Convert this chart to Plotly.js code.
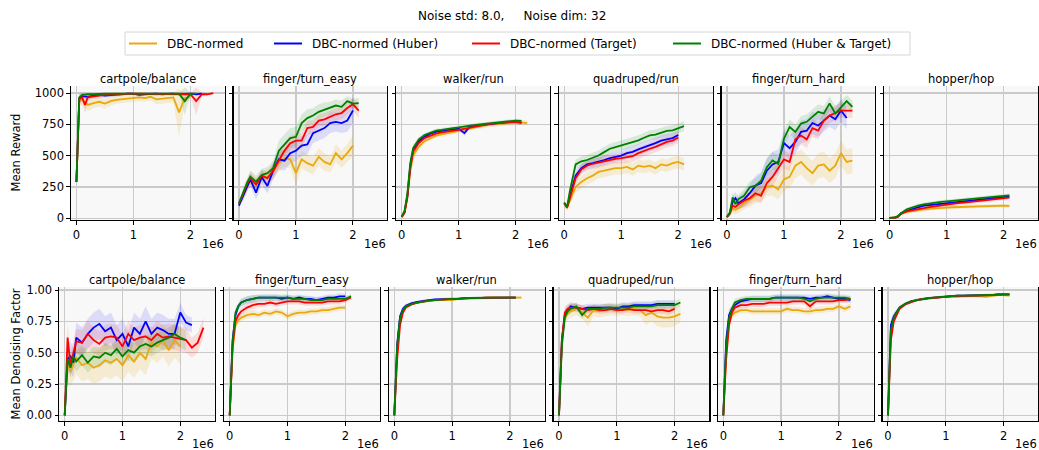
<!DOCTYPE html>
<html><head><meta charset="utf-8">
<script src="https://cdn.plot.ly/plotly-3.0.1.min.js"></script>
<style>html,body{margin:0;padding:0;background:#fff;}#chart{width:1039px;height:450px;}</style>
</head><body><div id="chart"></div>
<script>
// ---------- data (x in units of 1e6 env steps) ----------
const STEPS = [0,0.05,0.1,0.15,0.2,0.3,0.4,0.5,0.6,0.7,0.8,0.9,1.0,1.1,1.2,1.3,1.4,1.5,1.6,1.7,1.8,1.9,2.0,2.1,2.2,2.3,2.4];
const X_TICKS = [0,1,2];
const X_TICK_TEXT = ['0','1','2'];
const REWARD_TICKS = [0,250,500,750,1000];
const REWARD_TICK_TEXT = ['0','250','500','750','1000'];
const DENOISE_TICKS = [0,0.25,0.5,0.75,1.0];
const DENOISE_TICK_TEXT = ['0.00','0.25','0.50','0.75','1.00'];
const TASKS = ['cartpole/balance','finger/turn_easy','walker/run','quadruped/run','finger/turn_hard','hopper/hop'];
const SERIES_NAMES = ['DBC-normed','DBC-normed (Huber)','DBC-normed (Target)','DBC-normed (Huber & Target)'];
const SERIES_COLORS = ['#e8a90e','#0000ff','#ff0000','#008000'];
const BAND_COLORS = ['rgba(232,169,14,0.16)','rgba(0,0,255,0.11)','rgba(255,0,0,0.11)','rgba(0,128,0,0.12)'];
const ROW_LABELS = ['Mean Reward','Mean Denoising Factor'];
const TITLE_TEXT = 'Noise std: 8.0,\u00a0\u00a0\u00a0\u00a0\u00a0Noise dim: 32';
const SCALE_LABEL = '1e6';

// Mean reward
const cp_r_Y = [290,935,945,925,905,920,930,915,935,945,950,955,960,965,960,970,950,955,960,965,845,960,970];
const cp_r_Y_sd = [20,40,40,50,50,40,40,40,35,30,30,30,30,30,30,30,40,40,40,40,190,40,30];
const cp_r_B = [290,960,975,975,970,980,985,980,985,990,990,995,995,985,990,995,995,990,995,995,990,995,995,990,995];
const cp_r_B_sd = [20,30,20,20,20,15,15,15,15,10,10,10,10,15,10,10,10,10,10,10,10,10,10,10,10];
const cp_r_R = [290,950,965,905,965,975,980,985,985,990,990,995,995,990,995,995,990,995,995,990,995,990,990,935,990,990,1000];
const cp_r_R_sd = [20,40,40,70,30,20,20,15,15,15,15,10,10,15,10,10,15,10,10,15,10,15,15,110,15,10,10];
const cp_r_G = [290,965,985,990,990,990,995,995,995,995,995,995,995,995,995,995,995,995,995,995,995,935,995,995];
const cp_r_G_sd = [20,30,15,10,10,10,8,8,8,8,8,8,8,8,8,8,8,8,8,8,8,110,10,10];

const fe_r_Y = [110,160,220,260,300,270,320,330,370,440,480,470,360,470,440,420,490,450,430,520,470,520,580];
const fe_r_Y_sd = [20,30,40,40,50,50,50,60,60,60,70,70,90,70,70,70,70,70,60,70,70,70,80];
const fe_r_B = [100,150,200,260,310,205,330,258,380,470,460,520,540,580,590,680,700,720,760,770,760,780,860];
const fe_r_B_sd = [20,30,40,40,50,60,60,60,70,80,80,80,80,80,80,80,80,80,80,80,80,90,100];
const fe_r_R = [115,170,230,280,320,270,340,320,380,460,540,600,620,620,720,730,780,790,810,830,840,880,910,860];
const fe_r_R_sd = [20,30,40,40,50,50,50,50,60,60,60,60,60,60,60,50,50,50,50,50,50,50,50,60];
const fe_r_G = [120,180,240,290,332,292,345,360,400,540,590,640,650,760,800,820,850,865,880,900,890,935,915,920];
const fe_r_G_sd = [20,30,40,40,50,50,50,50,60,80,80,80,80,70,70,60,60,60,50,50,50,40,40,40];

const wk_r_Y = [10,40,160,370,500,570,615,640,660,670,680,690,700,710,720,730,740,745,750,755,760,760,762,765,760];
const wk_r_Y_sd = [5,10,30,40,35,25,20,20,20,20,20,20,20,20,20,20,20,20,20,20,20,20,20,20,20];
const wk_r_B = [10,50,180,420,545,615,650,675,690,700,705,710,715,680,735,740,745,752,758,760,765,770,770,762];
const wk_r_B_sd = [5,10,30,40,30,20,15,15,15,15,15,15,15,25,15,15,15,15,15,15,15,15,20,20];
const wk_r_R = [10,45,170,400,530,600,640,660,675,685,695,700,705,715,725,735,742,750,755,760,765,768,770,765];
const wk_r_R_sd = [5,10,30,40,30,20,15,15,15,15,15,15,15,15,15,15,15,15,15,15,15,15,15,15];
const wk_r_G = [15,60,200,440,560,630,665,685,700,705,715,720,725,735,740,745,750,755,760,765,770,775,780,778];
const wk_r_G_sd = [5,10,30,40,30,20,15,15,15,15,15,15,15,15,15,15,15,15,15,15,15,15,15,15];

const qr_r_Y = [120,80,140,200,250,290,320,340,370,380,390,400,400,410,390,420,410,420,400,430,420,440,450,430];
const qr_r_Y_sd = [15,20,30,40,50,50,50,50,50,50,50,50,50,50,50,50,50,50,50,50,50,50,50,50];
const qr_r_B = [120,90,180,270,340,400,430,440,450,465,480,490,500,520,530,550,565,580,600,620,630,640,665];
const qr_r_B_sd = [15,20,40,40,40,40,40,40,40,40,40,40,40,45,45,45,45,45,45,45,45,45,45];
const qr_r_R = [120,85,160,250,320,390,420,435,445,455,470,475,480,490,495,520,540,555,570,590,610,620,645];
const qr_r_R_sd = [15,20,40,40,40,40,40,40,40,40,40,40,40,45,45,45,45,45,45,45,45,45,45];
const qr_r_G = [125,90,220,330,430,455,465,483,501,528,555,568,582,595,609,622,643,662,668,681,697,702,716,735];
const qr_r_G_sd = [15,20,40,40,40,40,40,40,40,40,40,40,40,40,40,40,40,40,40,40,40,40,40,40];

const fh_r_Y = [10,30,80,70,80,120,150,180,200,250,260,230,310,330,420,450,400,360,420,430,380,420,520,450,460];
const fh_r_Y_sd = [10,20,40,40,40,50,60,60,70,70,80,80,90,90,100,100,100,100,100,100,100,100,100,100,100];
const fh_r_B = [10,40,130,160,120,150,200,260,280,380,430,450,600,560,610,690,700,760,740,780,820,790,860,800];
const fh_r_B_sd = [10,20,50,50,50,60,70,80,90,100,100,100,100,100,100,90,90,90,90,90,90,90,90,90];
const fh_r_R = [10,40,100,90,110,140,160,200,180,280,330,400,470,450,630,660,630,720,700,780,820,840,860,860,860];
const fh_r_R_sd = [10,20,40,40,40,50,50,60,60,70,70,70,70,70,70,70,70,70,70,70,60,60,60,60,60];
const fh_r_G = [10,45,166,113,153,180,247,260,300,408,461,434,635,729,689,756,770,810,850,836,917,836,890,936,890];
const fh_r_G_sd = [10,20,40,40,40,50,50,60,60,70,70,70,70,60,60,60,60,60,60,60,60,60,50,50,50];

const hp_r_Y = [2,2,5,15,35,50,58,63,70,75,80,83,85,88,90,92,93,95,96,97,98,100,100,98];
const hp_r_B = [2,3,5,15,40,60,75,88,100,105,110,115,120,125,130,135,140,145,150,155,160,165,170,175];
const hp_r_R = [2,2,4,12,35,55,65,72,80,88,95,100,110,115,120,125,130,135,140,145,150,155,160,165];
const hp_r_G = [2,3,8,20,40,72,88,100,110,118,125,130,135,140,145,150,155,160,163,168,172,175,178,182];
const hp_r_sd = [2,3,5,8,10,12,14,15,15,15,15,15,15,15,15,15,15,15,15,15,15,15,15,15];

// Mean denoising factor
const cp_d_Y = [0,0.40,0.35,0.40,0.46,0.40,0.42,0.38,0.40,0.44,0.42,0.45,0.40,0.48,0.43,0.50,0.45,0.58,0.55,0.60,0.52,0.60,0.55];
const cp_d_Y_sd = [0.02,0.15,0.12,0.12,0.13,0.13,0.13,0.13,0.13,0.13,0.13,0.13,0.13,0.13,0.13,0.13,0.13,0.13,0.13,0.13,0.13,0.14,0.14];
const cp_d_B = [0,0.45,0.47,0.42,0.62,0.58,0.65,0.70,0.73,0.67,0.70,0.60,0.65,0.55,0.70,0.65,0.75,0.65,0.70,0.68,0.65,0.65,0.82,0.74,0.72];
const cp_d_B_sd = [0.02,0.12,0.12,0.12,0.12,0.12,0.12,0.12,0.12,0.12,0.12,0.12,0.12,0.12,0.12,0.12,0.12,0.12,0.12,0.12,0.12,0.12,0.08,0.06,0.06];
const cp_d_R = [0,0.62,0.40,0.50,0.59,0.58,0.65,0.60,0.57,0.62,0.63,0.62,0.55,0.65,0.60,0.62,0.63,0.60,0.65,0.62,0.63,0.62,0.61,0.60,0.54,0.58,0.70];
const cp_d_R_sd = [0.02,0.12,0.10,0.10,0.10,0.10,0.10,0.10,0.10,0.10,0.10,0.10,0.10,0.10,0.10,0.10,0.10,0.10,0.10,0.10,0.10,0.10,0.10,0.10,0.08,0.08,0.08];
const cp_d_G = [0,0.45,0.38,0.47,0.43,0.48,0.42,0.47,0.46,0.50,0.48,0.53,0.47,0.52,0.50,0.55,0.57,0.55,0.58,0.60,0.62,0.65,0.62,0.60];
const cp_d_G_sd = [0.02,0.08,0.08,0.08,0.08,0.08,0.08,0.08,0.08,0.08,0.08,0.08,0.08,0.08,0.08,0.08,0.08,0.08,0.08,0.08,0.08,0.08,0.08,0.08];

const fe_d_Y = [0,0.52,0.72,0.76,0.78,0.80,0.81,0.80,0.82,0.81,0.83,0.82,0.79,0.81,0.82,0.82,0.83,0.83,0.84,0.84,0.85,0.86,0.86];
const fe_d_B = [0,0.60,0.80,0.87,0.90,0.92,0.93,0.94,0.94,0.94,0.94,0.93,0.94,0.93,0.94,0.93,0.93,0.92,0.93,0.94,0.94,0.95,0.95];
const fe_d_R = [0,0.55,0.75,0.80,0.83,0.86,0.88,0.89,0.89,0.90,0.89,0.90,0.91,0.91,0.91,0.90,0.90,0.90,0.90,0.91,0.91,0.91,0.92,0.94];
const fe_d_G = [0,0.58,0.82,0.87,0.90,0.92,0.93,0.94,0.94,0.94,0.94,0.94,0.94,0.93,0.93,0.93,0.92,0.92,0.92,0.93,0.93,0.93,0.93,0.95];
const fe_d_sd = [0.01,0.05,0.04,0.03,0.03,0.03,0.03,0.025,0.025,0.025,0.025,0.025,0.025,0.025,0.025,0.025,0.025,0.025,0.025,0.025,0.025,0.025,0.02,0.02];

const wk_d_Y = [0,0.55,0.78,0.84,0.87,0.89,0.90,0.91,0.915,0.92,0.92,0.925,0.92,0.93,0.93,0.935,0.935,0.935,0.94,0.94,0.94,0.935,0.94,0.94,0.94];
const wk_d_B = [0,0.57,0.79,0.85,0.875,0.895,0.905,0.915,0.92,0.925,0.925,0.93,0.93,0.93,0.935,0.935,0.94,0.94,0.94,0.94,0.94,0.94,0.94,0.94];
const wk_d_R = [0,0.45,0.72,0.82,0.86,0.885,0.90,0.91,0.915,0.92,0.925,0.925,0.93,0.93,0.935,0.935,0.935,0.94,0.94,0.94,0.94,0.94,0.94,0.94];
const wk_d_G = [0,0.55,0.78,0.84,0.87,0.89,0.90,0.91,0.915,0.92,0.925,0.93,0.93,0.93,0.935,0.935,0.935,0.94,0.94,0.94,0.94,0.94,0.94,0.94];
const wk_d_sd = [0.01,0.04,0.03,0.02,0.015,0.01,0.01,0.01,0.01,0.01,0.01,0.01,0.01,0.01,0.01,0.01,0.01,0.01,0.01,0.01,0.01,0.01,0.01,0.01,0.01];

const qr_d_Y = [0,0.6,0.78,0.81,0.83,0.85,0.82,0.78,0.84,0.83,0.84,0.85,0.84,0.85,0.84,0.85,0.84,0.80,0.82,0.79,0.78,0.78,0.79,0.81];
const qr_d_Y_sd = [0.01,0.08,0.06,0.05,0.05,0.05,0.05,0.07,0.05,0.05,0.05,0.05,0.05,0.05,0.05,0.05,0.05,0.08,0.07,0.08,0.08,0.08,0.08,0.07];
const qr_d_B = [0,0.6,0.80,0.84,0.87,0.86,0.85,0.86,0.86,0.86,0.86,0.86,0.85,0.87,0.87,0.88,0.88,0.88,0.88,0.89,0.89,0.89,0.89];
const qr_d_R = [0,0.6,0.82,0.85,0.86,0.86,0.85,0.84,0.85,0.84,0.84,0.85,0.84,0.84,0.85,0.84,0.84,0.84,0.83,0.84,0.84,0.83,0.85];
const qr_d_G = [0,0.55,0.78,0.83,0.85,0.87,0.80,0.85,0.85,0.85,0.86,0.86,0.86,0.86,0.86,0.87,0.87,0.87,0.87,0.88,0.88,0.88,0.88,0.90];
const qr_d_sd = [0.01,0.06,0.05,0.04,0.035,0.03,0.03,0.03,0.03,0.03,0.03,0.03,0.03,0.03,0.03,0.03,0.03,0.03,0.03,0.03,0.03,0.03,0.03,0.03];

const fh_d_Y = [0,0.50,0.75,0.80,0.82,0.84,0.84,0.83,0.83,0.83,0.83,0.83,0.83,0.85,0.84,0.84,0.83,0.83,0.84,0.84,0.85,0.85,0.87,0.85,0.87];
const fh_d_B = [0,0.60,0.80,0.85,0.88,0.91,0.92,0.93,0.93,0.93,0.93,0.94,0.94,0.94,0.94,0.94,0.94,0.93,0.94,0.94,0.95,0.94,0.93,0.93,0.92];
const fh_d_R = [0,0.45,0.72,0.82,0.86,0.88,0.88,0.89,0.89,0.89,0.90,0.90,0.90,0.90,0.91,0.91,0.91,0.87,0.91,0.91,0.91,0.91,0.92,0.92,0.93];
const fh_d_G = [0,0.55,0.78,0.85,0.90,0.92,0.93,0.93,0.93,0.93,0.93,0.94,0.94,0.94,0.94,0.94,0.93,0.91,0.93,0.94,0.94,0.94,0.94,0.94,0.93];
const fh_d_sd = [0.01,0.06,0.05,0.035,0.03,0.025,0.025,0.025,0.025,0.025,0.025,0.025,0.025,0.025,0.025,0.025,0.025,0.03,0.025,0.025,0.025,0.025,0.025,0.025,0.025];

const hp_d_Y = [0,0.70,0.78,0.82,0.86,0.89,0.91,0.92,0.93,0.935,0.94,0.94,0.945,0.95,0.95,0.95,0.955,0.955,0.95,0.945,0.955,0.96,0.96,0.955];
const hp_d_B = [0,0.72,0.79,0.83,0.86,0.89,0.91,0.92,0.93,0.935,0.94,0.945,0.95,0.95,0.955,0.955,0.955,0.96,0.96,0.96,0.96,0.965,0.965,0.965];
const hp_d_R = [0,0.60,0.75,0.80,0.85,0.885,0.905,0.92,0.93,0.935,0.94,0.945,0.95,0.95,0.95,0.955,0.955,0.955,0.96,0.96,0.96,0.96,0.965,0.965];
const hp_d_G = [0,0.68,0.78,0.82,0.86,0.89,0.91,0.92,0.93,0.935,0.94,0.945,0.95,0.95,0.955,0.955,0.955,0.96,0.96,0.96,0.96,0.965,0.965,0.965];
const hp_d_sd = [0.01,0.05,0.03,0.02,0.015,0.01,0.01,0.01,0.01,0.01,0.01,0.01,0.01,0.01,0.01,0.01,0.01,0.01,0.01,0.01,0.01,0.01,0.01,0.01];

// ---------- assemble ----------
const panels = [
  {m:[cp_r_Y,cp_r_B,cp_r_R,cp_r_G], s:[cp_r_Y_sd,cp_r_B_sd,cp_r_R_sd,cp_r_G_sd]},
  {m:[fe_r_Y,fe_r_B,fe_r_R,fe_r_G], s:[fe_r_Y_sd,fe_r_B_sd,fe_r_R_sd,fe_r_G_sd]},
  {m:[wk_r_Y,wk_r_B,wk_r_R,wk_r_G], s:[wk_r_Y_sd,wk_r_B_sd,wk_r_R_sd,wk_r_G_sd]},
  {m:[qr_r_Y,qr_r_B,qr_r_R,qr_r_G], s:[qr_r_Y_sd,qr_r_B_sd,qr_r_R_sd,qr_r_G_sd]},
  {m:[fh_r_Y,fh_r_B,fh_r_R,fh_r_G], s:[fh_r_Y_sd,fh_r_B_sd,fh_r_R_sd,fh_r_G_sd]},
  {m:[hp_r_Y,hp_r_B,hp_r_R,hp_r_G], s:[hp_r_sd,hp_r_sd,hp_r_sd,hp_r_sd]},
  {m:[cp_d_Y,cp_d_B,cp_d_R,cp_d_G], s:[cp_d_Y_sd,cp_d_B_sd,cp_d_R_sd,cp_d_G_sd]},
  {m:[fe_d_Y,fe_d_B,fe_d_R,fe_d_G], s:[fe_d_sd,fe_d_sd,fe_d_sd,fe_d_sd]},
  {m:[wk_d_Y,wk_d_B,wk_d_R,wk_d_G], s:[wk_d_sd,wk_d_sd,wk_d_sd,wk_d_sd]},
  {m:[qr_d_Y,qr_d_B,qr_d_R,qr_d_G], s:[qr_d_Y_sd,qr_d_sd,qr_d_sd,qr_d_sd]},
  {m:[fh_d_Y,fh_d_B,fh_d_R,fh_d_G], s:[fh_d_sd,fh_d_sd,fh_d_sd,fh_d_sd]},
  {m:[hp_d_Y,hp_d_B,hp_d_R,hp_d_G], s:[hp_d_sd,hp_d_sd,hp_d_sd,hp_d_sd]}
];

const W = 1039, H = 450;
const FONT = 'DejaVu Sans, Liberation Sans, sans-serif';
const ROWS = [
  {lefts:[71,233.5,396.3,558.8,721.5,884.2], w:153.7, top:86, bot:220, range:[-14,1056], tv:REWARD_TICKS, tt:REWARD_TICK_TEXT, titleY:79, sciY:244, labelY:153},
  {lefts:[59.2,224.2,388.8,553.5,717.8,882.5], w:155.8, top:287, bot:421, range:[-0.045,1.024], tv:DENOISE_TICKS, tt:DENOISE_TICK_TEXT, titleY:280, sciY:444, labelY:354}
];
const px = v => v / W;
const py = v => 1 - v / H;

const traces = [];
const layout = {
  width: W, height: H, autosize: false,
  margin: {l:0, r:0, t:0, b:0},
  paper_bgcolor: '#ffffff', plot_bgcolor: '#f8f8f8',
  font: {family: FONT, color: '#000', size: 11.5},
  showlegend: false,
  annotations: [], shapes: []
};

panels.forEach((p, i) => {
  const row = i < 6 ? 0 : 1, col = i % 6;
  const R = ROWS[row];
  const sfx = i === 0 ? '' : String(i + 1);
  p.m.forEach((vals, k) => {
    const sd = p.s[k];
    const xs = STEPS.slice(0, vals.length);
    const up = vals.map((v, j) => v + sd[j]);
    const lo = vals.map((v, j) => v - sd[j]);
    traces.push({type:'scatter', mode:'lines', x: xs.concat(xs.slice().reverse()),
      y: up.concat(lo.slice().reverse()), fill:'toself', fillcolor: BAND_COLORS[k],
      line:{width:0, color:'rgba(0,0,0,0)'}, hoverinfo:'skip', showlegend:false,
      xaxis:'x'+sfx, yaxis:'y'+sfx});
  });
  p.m.forEach((vals, k) => {
    traces.push({type:'scatter', mode:'lines', x: STEPS.slice(0, vals.length), y: vals,
      name: SERIES_NAMES[k], line:{color: SERIES_COLORS[k], width:1.8}, showlegend:false,
      xaxis:'x'+sfx, yaxis:'y'+sfx});
  });
  const l = R.lefts[col];
  layout['xaxis'+sfx] = {
    domain:[px(l), px(l + R.w)], anchor:'y'+sfx, range:[-0.095, 2.6],
    tickmode:'array', tickvals: X_TICKS, ticktext: X_TICK_TEXT,
    ticks:'outside', ticklen:3.5, tickwidth:1, tickcolor:'#000',
    showline:true, linecolor:'#000', linewidth:1.2, mirror:false,
    showgrid:true, gridcolor:'#cacaca', gridwidth:1.3, zeroline:false,
    tickfont:{size:11.5, family:FONT, color:'#000'}, fixedrange:true
  };
  layout['yaxis'+sfx] = {
    domain:[py(R.bot), py(R.top)], anchor:'x'+sfx, range:R.range,
    tickmode:'array', tickvals:R.tv, ticktext:R.tt, showticklabels: col === 0,
    ticks:'outside', ticklen:3.5, tickwidth:1, tickcolor:'#000',
    showline:true, linecolor:'#000', linewidth:1.2, mirror:true,
    showgrid:true, gridcolor:'#cacaca', gridwidth:1.3, zeroline:false,
    tickfont:{size:11.5, family:FONT, color:'#000'}, fixedrange:true
  };
  layout.annotations.push({text: TASKS[col], xref:'paper', yref:'paper', x: px(l + R.w/2), y: py(R.titleY),
    xanchor:'center', yanchor:'middle', showarrow:false, font:{size:11.5, family:FONT, color:'#000'}});
  layout.annotations.push({text: SCALE_LABEL, xref:'paper', yref:'paper', x: px(l + R.w + 1), y: py(R.sciY),
    xanchor:'right', yanchor:'middle', showarrow:false, font:{size:11.5, family:FONT, color:'#000'}});
});

ROWS.forEach((R, r) => {
  layout.annotations.push({text: ROW_LABELS[r], xref:'paper', yref:'paper', x: px(15.5), y: py(R.labelY),
    xanchor:'center', yanchor:'middle', textangle:-90, showarrow:false, font:{size:11.5, family:FONT, color:'#000'}});
});

// suptitle
layout.annotations.push({text: TITLE_TEXT, xref:'paper', yref:'paper', x: px(512), y: py(16.5),
  xanchor:'center', yanchor:'middle', showarrow:false, font:{size:12, family:FONT, color:'#000'}});

// legend (drawn manually to match the figure)
layout.shapes.push({type:'rect', xref:'paper', yref:'paper', x0: px(125), x1: px(910), y0: py(55), y1: py(32),
  line:{color:'#d6d6d6', width:1}, fillcolor:'rgba(255,255,255,0.85)', layer:'above'});
const LEG_X = [129, 274, 472, 673];
SERIES_NAMES.forEach((name, k) => {
  const x0 = LEG_X[k];
  layout.shapes.push({type:'line', xref:'paper', yref:'paper', x0: px(x0), x1: px(x0 + 28), y0: py(43.5), y1: py(43.5),
    line:{color: SERIES_COLORS[k], width:2}, layer:'above'});
  layout.annotations.push({text: name, xref:'paper', yref:'paper', x: px(x0 + 36), y: py(43.5),
    xanchor:'left', yanchor:'middle', showarrow:false, font:{size:12, family:FONT, color:'#000'}});
});

Plotly.newPlot('chart', traces, layout, {displayModeBar:false, staticPlot:true});
</script></body></html>
